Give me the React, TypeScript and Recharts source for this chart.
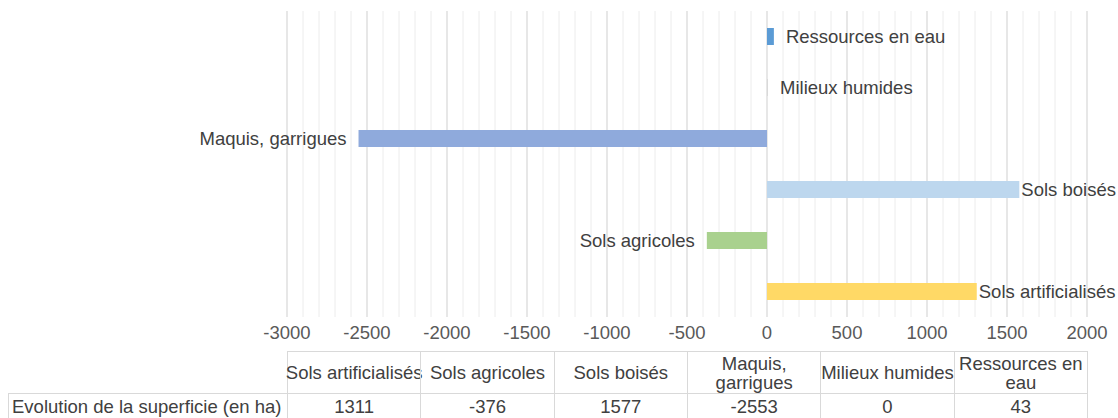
import React from 'react';
import {
  BarChart,
  Bar,
  XAxis,
  YAxis,
  CartesianGrid,
  Cell,
  LabelList,
} from 'recharts';

const categories = [
  'Sols artificialisés',
  'Sols agricoles',
  'Sols boisés',
  'Maquis, garrigues',
  'Milieux humides',
  'Ressources en eau',
];
const tableHeaders = [
  ['Sols artificialisés'],
  ['Sols agricoles'],
  ['Sols boisés'],
  ['Maquis,', 'garrigues'],
  ['Milieux humides'],
  ['Ressources en', 'eau'],
];
const values = [1311, -376, 1577, -2553, 0, 43];
const colors = ['#FFD966', '#A9D18E', '#BDD7EE', '#8FAADC', '#D9D9D9', '#5B9BD5'];
const majorTicks = [-3000, -2500, -2000, -1500, -1000, -500, 0, 500, 1000, 1500, 2000];
const minorTicks = Array.from({ length: 51 }, (_, i) => -3000 + i * 100);
const rowLabel = 'Evolution de la superficie (en ha)';

const data = categories.map((name, i) => ({ name, value: values[i] }));

const FONT = '"Liberation Sans", Arial, sans-serif';
const FS = 18.5;
const W = 1118;
const H = 418;
const PLOT_LEFT = 287;
const PLOT_RIGHT = 1087;

function renderLabel(props: any) {
  const { x, y, width, height, value } = props;
  const i = categories.indexOf(value);
  const v = values[i];
  const left = Math.min(x, x + width);
  const right = Math.max(x, x + width);
  const cy = y + height / 2;
  if (v < 0) {
    return (
      <text x={left - 12} y={cy} dy="0.35em" textAnchor="end" fontSize={FS} fill="#404040" fontFamily={FONT}>
        {value}
      </text>
    );
  }
  const off = v < 100 ? 12 : 2;
  return (
    <text x={right + off} y={cy} dy="0.35em" textAnchor="start" fontSize={FS} fill="#404040" fontFamily={FONT}>
      {value}
    </text>
  );
}

function DataTable() {
  const colW = (PLOT_RIGHT - PLOT_LEFT) / categories.length;
  const border = '1px solid #d9d9d9';
  const cell: React.CSSProperties = {
    position: 'absolute',
    boxSizing: 'border-box',
    display: 'flex',
    flexDirection: 'column',
    alignItems: 'center',
    justifyContent: 'center',
    textAlign: 'center',
    fontSize: FS,
    lineHeight: '19px',
    color: '#404040',
    whiteSpace: 'nowrap',
  };
  const headTop = 351;
  const headH = 42;
  const rowH = 27;
  return (
    <div style={{ position: 'absolute', left: 0, top: 0, width: W, height: H, fontFamily: FONT, pointerEvents: 'none' }}>
      {tableHeaders.map((lines, i) => (
        <div
          key={'h' + i}
          style={{
            ...cell,
            left: PLOT_LEFT + i * colW,
            top: headTop,
            width: colW + 1,
            height: headH + 1,
            border,
          }}
        >
          {lines.map((l) => (
            <span key={l}>{l}</span>
          ))}
        </div>
      ))}
      <div
        style={{
          ...cell,
          left: 8,
          top: headTop + headH,
          width: PLOT_LEFT - 8 + 1,
          height: rowH,
          border,
          alignItems: 'flex-start',
          paddingLeft: 3,
        }}
      >
        {rowLabel}
      </div>
      {values.map((v, i) => (
        <div
          key={'v' + i}
          style={{
            ...cell,
            left: PLOT_LEFT + i * colW,
            top: headTop + headH,
            width: colW + 1,
            height: rowH,
            border,
          }}
        >
          {v}
        </div>
      ))}
    </div>
  );
}

// minor grid every 100, placed with the axis scale
const minorGrid = ({ xAxis }: any) => {
  const s = xAxis && xAxis.scale;
  if (typeof s === 'function') return minorTicks.map((t) => s(t));
  if (s && typeof s.map === 'function') return minorTicks.map((t) => s.map(t));
  return [];
};

export default function App() {
  return (
    <div style={{ position: 'absolute', left: 0, top: 0, width: W, height: H, background: '#fff', overflow: 'hidden' }}>
      <BarChart
        width={W}
        height={H}
        data={data}
        layout="vertical"
        barSize={17}
        margin={{ top: 11, right: W - PLOT_RIGHT, left: PLOT_LEFT, bottom: 71 }}
      >
        <CartesianGrid horizontal={false} stroke="#ececec" verticalCoordinatesGenerator={minorGrid} />
        <CartesianGrid horizontal={false} stroke="#d9d9d9" />
        <XAxis
          type="number"
          domain={[-3000, 2000]}
          ticks={majorTicks}
          interval={0}
          height={30}
          axisLine={false}
          tickLine={false}
          tickMargin={3}
          tick={{ fontSize: FS, fill: '#595959', fontFamily: FONT }}
        />
        <YAxis type="category" dataKey="name" reversed hide width={0} />
        <Bar dataKey="value" minPointSize={1} isAnimationActive={false}>
          {data.map((d, i) => (
            <Cell key={d.name} fill={colors[i]} />
          ))}
          <LabelList dataKey="name" content={renderLabel} />
        </Bar>
      </BarChart>
      <DataTable />
    </div>
  );
}
